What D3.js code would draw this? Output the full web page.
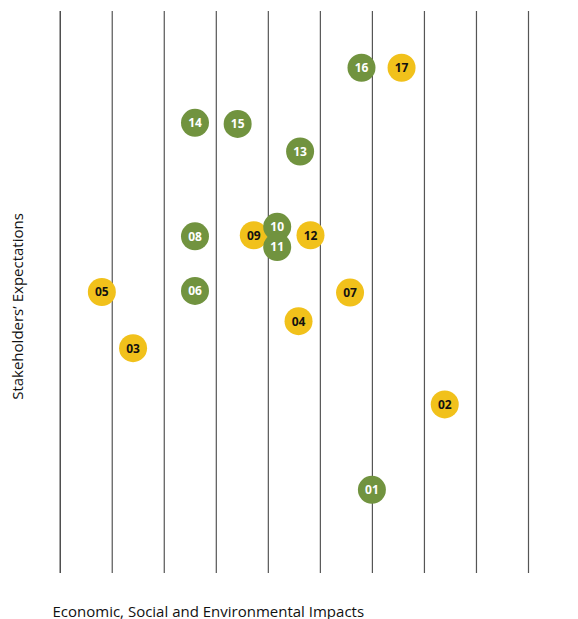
<!DOCTYPE html>
<html>
<head>
<meta charset="utf-8">
<script src="https://cdn.jsdelivr.net/npm/d3@7/dist/d3.min.js"></script>
<style>
  html, body { margin: 0; padding: 0; background: #fff; }
  svg { display: block; }
</style>
</head>
<body>
<svg id="chart" width="578" height="619"></svg>
<script>
// ---- data ----
const ids      = ["01","02","03","04","05","06","07","08","09","10","11","12","13","14","15","16","17"];
const impacts  = [6.0, 7.4, 1.41, 4.59, 0.81, 2.6, 5.58, 2.6, 3.73, 4.18, 4.18, 4.82, 4.62, 2.6, 3.42, 5.8, 6.57];
const expects  = [1.48, 3.0, 4.0, 4.48, 5.0, 5.02, 4.99, 5.99, 6.01, 6.16, 5.8, 6.01, 7.5, 8.01, 7.99, 8.99, 8.99];
const groups   = ["g","y","y","y","y","g","y","g","y","g","g","y","g","g","g","g","y"];
const gridTicks = [0,1,2,3,4,5,6,7,8,9];
const xLabel = "Economic, Social and Environmental Impacts";
const yLabel = "Stakeholders\u2019 Expectations";

const fills = { g: "#71933f", y: "#f1c11b" };
const textFills = { g: "#ffffff", y: "#111111" };

const svg = d3.select("#chart");
const x = d3.scaleLinear().domain([0, 9]).range([59.7, 528]);
const y = d3.scaleLinear().domain([0, 10]).range([573, 11]);

// vertical grid lines via axis
const gAxis = svg.append("g")
  .call(d3.axisBottom(x).tickValues(gridTicks).tickSize(-(y(0) - y(10))).tickFormat(""))
  .attr("transform", `translate(0,${y(0)})`);
gAxis.select(".domain").remove();
gAxis.selectAll(".tick line").attr("stroke", "#555").attr("stroke-width", 1.2);
gAxis.select(".tick:first-of-type line").attr("stroke", "#222");

const data = ids.map((id, i) => ({ id, x: impacts[i], y: expects[i], g: groups[i] }));

const pts = svg.append("g").selectAll("g").data(data).join("g")
  .attr("transform", d => `translate(${x(d.x)},${y(d.y)})`);
pts.append("circle").attr("r", 14).attr("fill", d => fills[d.g]);
pts.append("text")
  .attr("text-anchor", "middle")
  .attr("dy", "0.36em")
  .attr("font-family", "'Noto Sans', 'Open Sans', sans-serif")
  .attr("font-weight", "bold")
  .attr("font-size", 12)
  .attr("fill", d => textFills[d.g])
  .text(d => d.id);

svg.append("text")
  .attr("x", 52.5).attr("y", 616.5)
  .attr("font-family", "'Open Sans', 'Noto Sans', sans-serif")
  .attr("font-size", 15)
  .attr("fill", "#111")
  .text(xLabel);

svg.append("text")
  .attr("transform", "translate(22.5,306.5) rotate(-90)")
  .attr("text-anchor", "middle")
  .attr("font-family", "'Open Sans', 'Noto Sans', sans-serif")
  .attr("font-size", 15)
  .attr("fill", "#111")
  .text(yLabel);
</script>
</body>
</html>
